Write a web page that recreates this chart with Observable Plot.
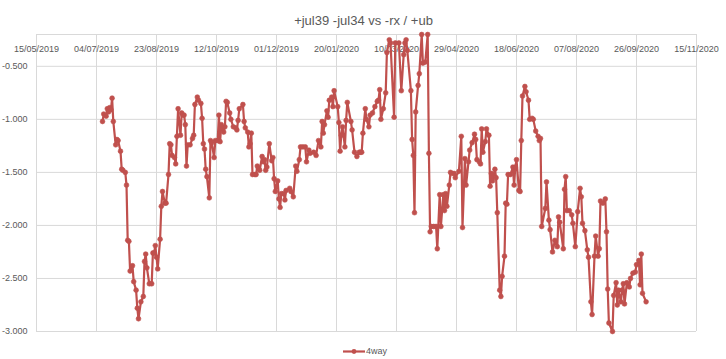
<!DOCTYPE html>
<html><head><meta charset="utf-8">
<script src="https://cdn.jsdelivr.net/npm/d3@7"></script>
<script src="https://cdn.jsdelivr.net/npm/@observablehq/plot@0.6"></script>
<style>html,body{margin:0;padding:0;background:#fff}</style>
</head><body><div id="chart"></div>
<script>
const chartTitle = "+jul39 -jul34 vs -rx / +ub";
const seriesName = "4way";
const xTickDates = ["2019-05-15","2019-07-04","2019-08-23","2019-10-12","2019-12-01","2020-01-20","2020-03-10","2020-04-29","2020-06-18","2020-08-07","2020-09-26","2020-11-15"];
const yTicks = [-0.5, -1.0, -1.5, -2.0, -2.5, -3.0];
const yTop = -0.2;
const series4way = [
["2019-07-09",-1.02],["2019-07-10",-0.95],["2019-07-12",-0.97],["2019-07-13",-0.90],["2019-07-14",-0.93],["2019-07-15",-0.89],["2019-07-16",-0.91],["2019-07-17",-0.80],["2019-07-18",-1.02],["2019-07-20",-1.24],["2019-07-21",-1.19],["2019-07-22",-1.20],["2019-07-24",-1.30],["2019-07-25",-1.47],["2019-07-26",-1.48],["2019-07-28",-1.50],["2019-07-29",-1.62],["2019-07-30",-2.14],["2019-07-31",-2.15],
["2019-08-01",-2.43],["2019-08-03",-2.38],["2019-08-04",-2.53],["2019-08-06",-2.61],["2019-08-07",-2.78],["2019-08-08",-2.88],["2019-08-10",-2.72],["2019-08-12",-2.67],["2019-08-13",-2.34],["2019-08-14",-2.27],["2019-08-15",-2.40],["2019-08-17",-2.55],["2019-08-19",-2.55],["2019-08-20",-2.26],["2019-08-21",-2.26],["2019-08-22",-2.19],["2019-08-23",-2.30],["2019-08-24",-2.41],["2019-08-26",-2.13],["2019-08-27",-1.82],["2019-08-28",-1.68],["2019-08-30",-1.79],["2019-08-31",-1.79],
["2019-09-02",-1.52],["2019-09-03",-1.23],["2019-09-04",-1.24],["2019-09-05",-1.34],["2019-09-07",-1.36],["2019-09-08",-1.42],["2019-09-09",-1.16],["2019-09-10",-0.90],["2019-09-12",-1.15],["2019-09-13",-0.94],["2019-09-14",-0.96],["2019-09-15",-0.96],["2019-09-16",-1.05],["2019-09-17",-1.44],["2019-09-18",-1.24],["2019-09-20",-1.24],["2019-09-22",-1.18],["2019-09-23",-1.15],["2019-09-24",-0.86],["2019-09-26",-0.79],["2019-09-27",-0.82],["2019-09-29",-0.85],["2019-09-30",-0.99],
["2019-10-01",-1.23],["2019-10-02",-1.28],["2019-10-03",-1.47],["2019-10-04",-1.54],["2019-10-06",-1.74],["2019-10-07",-1.20],["2019-10-08",-1.22],["2019-10-10",-1.36],["2019-10-11",-1.20],["2019-10-13",-1.20],["2019-10-14",-0.96],["2019-10-15",-1.21],["2019-10-16",-1.05],["2019-10-18",-1.12],["2019-10-19",-1.07],["2019-10-20",-0.83],["2019-10-21",-0.84],["2019-10-23",-0.94],["2019-10-24",-1.00],["2019-10-26",-1.07],["2019-10-28",-1.08],["2019-10-29",-1.10],["2019-10-30",-1.01],["2019-10-31",-0.90],
["2019-11-03",-0.86],["2019-11-04",-1.02],["2019-11-05",-1.08],["2019-11-07",-1.12],["2019-11-08",-1.26],["2019-11-09",-1.23],["2019-11-10",-1.13],["2019-11-11",-1.52],["2019-11-13",-1.52],["2019-11-14",-1.52],["2019-11-15",-1.44],["2019-11-16",-1.46],["2019-11-17",-1.48],["2019-11-19",-1.35],["2019-11-20",-1.40],["2019-11-21",-1.38],["2019-11-22",-1.48],["2019-11-23",-1.45],["2019-11-25",-1.23],["2019-11-27",-1.39],["2019-11-28",-1.36],["2019-11-29",-1.56],["2019-11-30",-1.68],
["2019-12-02",-1.58],["2019-12-03",-1.75],["2019-12-04",-1.83],["2019-12-05",-1.70],["2019-12-07",-1.70],["2019-12-08",-1.76],["2019-12-09",-1.67],["2019-12-12",-1.65],["2019-12-13",-1.68],["2019-12-15",-1.73],["2019-12-17",-1.44],["2019-12-18",-1.49],["2019-12-20",-1.38],["2019-12-21",-1.26],["2019-12-23",-1.26],["2019-12-25",-1.26],["2019-12-26",-1.40],["2019-12-28",-1.29],["2019-12-29",-1.32],
["2020-01-01",-1.31],["2020-01-03",-1.34],["2020-01-05",-1.20],["2020-01-07",-1.26],["2020-01-08",-1.02],["2020-01-09",-1.13],["2020-01-10",-1.05],["2020-01-12",-0.92],["2020-01-13",-0.98],["2020-01-14",-0.82],["2020-01-16",-0.79],["2020-01-17",-0.88],["2020-01-18",-0.73],["2020-01-21",-0.88],["2020-01-22",-1.03],["2020-01-23",-1.30],["2020-01-24",-1.15],["2020-01-25",-1.07],["2020-01-27",-1.26],["2020-01-28",-1.01],["2020-01-29",-0.84],
["2020-02-01",-1.02],["2020-02-02",-1.10],["2020-02-04",-1.31],["2020-02-06",-1.35],["2020-02-08",-1.31],["2020-02-09",-1.31],["2020-02-10",-1.31],["2020-02-11",-1.13],["2020-02-13",-0.90],["2020-02-14",-1.00],["2020-02-16",-1.07],["2020-02-17",-0.96],["2020-02-19",-0.94],["2020-02-21",-0.88],["2020-02-23",-0.83],["2020-02-24",-0.82],["2020-02-25",-0.72],["2020-02-26",-1.00],["2020-02-28",-0.90],
["2020-03-01",-0.75],["2020-03-02",-0.37],["2020-03-04",-0.25],["2020-03-05",-0.28],["2020-03-08",-0.98],["2020-03-09",-0.28],["2020-03-12",-0.28],["2020-03-14",-0.73],["2020-03-16",-0.39],["2020-03-17",-0.28],["2020-03-18",-0.25],["2020-03-19",-0.35],["2020-03-22",-0.73],["2020-03-23",-1.19],["2020-03-24",-1.34],["2020-03-25",-1.88],["2020-03-26",-0.93],["2020-03-28",-0.68],["2020-03-29",-0.57],["2020-03-31",-0.20],
["2020-04-01",-0.47],["2020-04-03",-0.46],["2020-04-05",-0.20],["2020-04-06",-1.32],["2020-04-07",-2.06],["2020-04-08",-2.01],["2020-04-10",-2.01],["2020-04-12",-2.01],["2020-04-13",-2.22],["2020-04-15",-1.71],["2020-04-16",-2.01],["2020-04-18",-1.71],["2020-04-19",-1.86],["2020-04-20",-1.70],["2020-04-21",-1.82],["2020-04-23",-1.62],["2020-04-24",-1.50],["2020-04-25",-1.51],["2020-04-27",-1.51],["2020-04-28",-1.55],
["2020-05-01",-1.49],["2020-05-03",-1.16],["2020-05-04",-2.02],["2020-05-06",-1.37],["2020-05-07",-1.62],["2020-05-09",-1.40],["2020-05-10",-1.29],["2020-05-12",-1.22],["2020-05-14",-1.14],["2020-05-15",-1.19],["2020-05-16",-1.38],["2020-05-18",-1.40],["2020-05-19",-1.42],["2020-05-20",-1.09],["2020-05-21",-1.31],["2020-05-23",-1.21],["2020-05-24",-1.09],["2020-05-26",-1.15],["2020-05-27",-1.63],["2020-05-28",-1.51],["2020-05-29",-1.58],["2020-05-31",-1.47],
["2020-06-01",-1.55],["2020-06-02",-1.88],["2020-06-04",-2.61],["2020-06-05",-2.67],["2020-06-06",-2.48],["2020-06-08",-2.29],["2020-06-09",-1.79],["2020-06-10",-1.80],["2020-06-11",-1.52],["2020-06-13",-1.52],["2020-06-15",-1.45],["2020-06-16",-1.62],["2020-06-17",-1.45],["2020-06-18",-1.38],["2020-06-20",-1.67],["2020-06-21",-1.68],["2020-06-22",-1.20],["2020-06-23",-0.78],["2020-06-25",-0.69],["2020-06-26",-0.74],["2020-06-28",-0.82],["2020-06-29",-1.00],
["2020-07-01",-0.99],["2020-07-02",-1.00],["2020-07-04",-1.11],["2020-07-06",-1.16],["2020-07-07",-1.20],["2020-07-08",-1.18],["2020-07-09",-2.01],["2020-07-12",-1.84],["2020-07-13",-1.59],["2020-07-15",-1.95],["2020-07-16",-2.04],["2020-07-18",-2.25],["2020-07-20",-2.14],["2020-07-22",-2.20],["2020-07-23",-1.92],["2020-07-24",-1.97],["2020-07-27",-2.22],["2020-07-28",-1.66],["2020-07-29",-1.54],["2020-07-30",-1.86],
["2020-08-01",-1.86],["2020-08-03",-1.90],["2020-08-04",-1.98],["2020-08-06",-2.20],["2020-08-08",-1.87],["2020-08-10",-1.65],["2020-08-11",-1.73],["2020-08-12",-1.98],["2020-08-14",-2.05],["2020-08-16",-2.23],["2020-08-17",-2.30],["2020-08-19",-2.72],["2020-08-20",-2.84],["2020-08-22",-2.29],["2020-08-23",-2.10],["2020-08-25",-2.29],["2020-08-26",-2.22],["2020-08-27",-1.77],["2020-08-29",-1.79],["2020-08-31",-1.75],
["2020-09-01",-2.06],["2020-09-02",-2.60],["2020-09-03",-2.92],["2020-09-06",-3.00],["2020-09-07",-2.66],["2020-09-09",-2.54],["2020-09-10",-2.75],["2020-09-11",-2.61],["2020-09-13",-2.72],["2020-09-14",-2.61],["2020-09-15",-2.55],["2020-09-16",-2.74],["2020-09-18",-2.54],["2020-09-20",-2.58],["2020-09-21",-2.50],["2020-09-23",-2.45],["2020-09-25",-2.44],["2020-09-26",-2.37],["2020-09-28",-2.33],["2020-09-29",-2.56],["2020-09-30",-2.27],
["2020-10-01",-2.64],["2020-10-04",-2.72]
];

const parse = d3.utcParse("%Y-%m-%d");
const fmtDate = d3.utcFormat("%d/%m/%Y");
const data = series4way.map(([d, v]) => ({date: parse(d), value: v}));
const xTicks = xTickDates.map(parse);
const red = "#c0504d";
const grid = "#d9d9d9";
const textColor = "#595959";
const font = "'Liberation Sans', Arial, sans-serif";

const chart = Plot.plot({
  width: 726, height: 359,
  marginTop: 34, marginBottom: 28, marginLeft: 36, marginRight: 30,
  style: {fontFamily: font, background: "#fff", overflow: "visible"},
  x: {type: "utc", domain: [xTicks[0], xTicks[xTicks.length - 1]], axis: null},
  y: {domain: [-3, yTop], axis: null},
  marks: [
    Plot.ruleY(yTicks, {stroke: grid, strokeWidth: 1}),
    Plot.ruleY([yTop], {stroke: grid, strokeWidth: 1}),
    Plot.ruleX(xTicks, {stroke: grid, strokeWidth: 1}),
    Plot.text(yTicks, {y: d => d, frameAnchor: "left", dx: -9, textAnchor: "end", text: d => d.toFixed(3), fill: textColor, fontSize: 9}),
    Plot.text(xTicks, {x: d => d, frameAnchor: "top", dy: 11, text: d => fmtDate(d), fill: textColor, fontSize: 9}),
    Plot.line(data, {x: "date", y: "value", stroke: red, strokeWidth: 2.2, strokeLinejoin: "round"}),
    Plot.dot(data, {x: "date", y: "value", r: 2.4, fill: red, stroke: red, strokeWidth: 0.6}),
    Plot.text([chartTitle], {frameAnchor: "top", dx: -3, dy: -19, fill: textColor, fontSize: 13})
  ]
});
document.getElementById("chart").appendChild(chart);

// legend
const svg = d3.select(chart);
const lg = svg.append("g").attr("transform", "translate(343,351.5)");
lg.append("line").attr("x1", 0).attr("x2", 22).attr("y1", 0).attr("y2", 0).attr("stroke", red).attr("stroke-width", 2.2);
lg.append("circle").attr("cx", 11).attr("cy", 0).attr("r", 2.4).attr("fill", red);
lg.append("text").attr("x", 23).attr("y", 0).attr("dy", "0.32em").attr("text-anchor", "start").attr("fill", textColor).attr("font-size", 9).attr("font-family", font).text(seriesName);
</script>
</body></html>
